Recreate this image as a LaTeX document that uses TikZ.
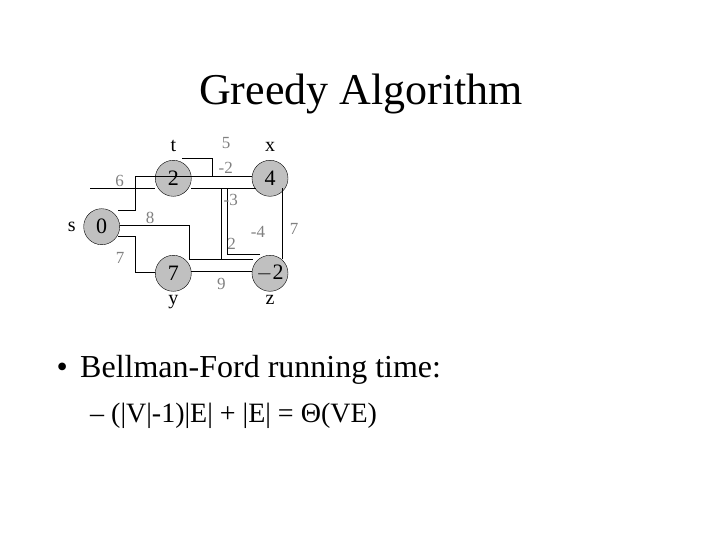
\documentclass[tikz,border=0pt]{standalone}
\usepackage{fontspec}
\setmainfont{Liberation Serif}
\usetikzlibrary{calc, positioning, math}
\definecolor{vgray}{RGB}{192,192,192}
\definecolor{wgray}{RGB}{128,128,128}

\begin{document}
\begin{tikzpicture}[x=1pt,y=-1pt,
  vert/.style={circle, draw, fill=vgray, minimum size=2*\R pt, inner sep=0pt, font=\fontsize{22}{22}\selectfont},
  wt/.style={text=wgray, anchor=base, inner sep=0pt, font=\fontsize{17}{17}\selectfont},
  lbl/.style={anchor=base, inner sep=0pt, font=\fontsize{20}{20}\selectfont},
  edge/.style={line width=0.8pt}]
\tikzmath{
\R=18;
}
\useasboundingbox (0,0) rectangle (720,540);

%title
\node[anchor=base, font=\fontsize{44}{44}\selectfont] (title) at (361,105) {Greedy Algorithm};

%graph
\node[vert] (s) at (101.7,226.7) {0};
\node[vert] (t) at (173.3,178.3) {2};
\node[vert] (x) at (270,178.3) {4};
\node[vert] (y) at (173.3,273.3) {7};
\node[vert] (z) at (270,273.3) {$-$2};

\node[lbl] (tname) at (173.3,151.7) {t};
\node[lbl] (xname) at (270,151.7) {x};
\node[lbl] (sname) at (71.7,231.7) {s};
\node[lbl] (yname) at (173.3,304) {y};
\node[lbl] (zname) at (270,304) {z};

\coordinate (lead) at (90,188.3);
\draw[edge] (lead) -- ($(t)+(-\R,10)$);
\draw[edge] ($(t)+(\R,10)$) -- ($(x)+(-14,10)$);
\draw[edge] ($(s)+(16.6,-16)$) -| ($(t)+(-38.3,-1.6)$) -- ($(t)+(-\R,-1.6)$);
\draw[edge] ($(x)+(-57.7,-1.6)$) |- ($(t)+(8.4,-20)$);
\draw[edge] ($(z)+(12.7,-14)$) -- ($(x)+(12.7,10)$);
\draw[edge] ($(y)+(16,-14)$) -| ($(x)+(-48.3,10)$);
\draw[edge] ($(y)+(16,-14)$) -- ($(z)+(-17,-14)$);
\draw[edge] ($(z)+(-10,-19.3)$) -| ($(x)+(-42.7,10.7)$);
\draw[edge] ($(s)+(16.6,10)$) -| ($(y)+(-38.3,-0.6)$) -- ($(y)+(-\R,-0.6)$);
\draw[edge] ($(s)+(\R,-1.7)$) -| ($(y)+(15.7,-14)$);
\draw[edge] ($(y)+(\R,-2.3)$) -- ($(z)+(-\R,-2.3)$);
\draw[edge] ($(t)+(-\R,-1.6)$) -- ($(x)+(-\R,-1.6)$);

%weights
\node[wt] (w5) at (226,148.3) {5};
\node[wt] (wm2) at (225.8,173.3) {-2};
\node[wt] (w6) at (119.5,186.7) {6};
\node[wt] (wm3) at (230.8,205.7) {-3};
\node[wt] (w8) at (150,223.3) {8};
\node[wt] (w2) at (231.7,249.3) {2};
\node[wt] (wm4) at (258,237.3) {-4};
\node[wt] (w7r) at (294,235) {7};
\node[wt] (w7l) at (120,263) {7};
\node[wt] (w9) at (221.3,289.3) {9};

%text
\node[anchor=base west, inner sep=0pt, font=\fontsize{32}{32}\selectfont] (point) at (80,377) {Bellman-Ford running time:};
\node[anchor=base east, inner sep=0pt, font=\fontsize{32}{32}\selectfont] (dot) at ($(point.base west)+(-12,0)$) {•};
\node[anchor=base west, inner sep=0pt, font=\fontsize{28}{28}\selectfont] (sub) at (90,422) {– (|V|-1)|E| + |E| = Θ(VE)};
\end{tikzpicture}
\end{document}
